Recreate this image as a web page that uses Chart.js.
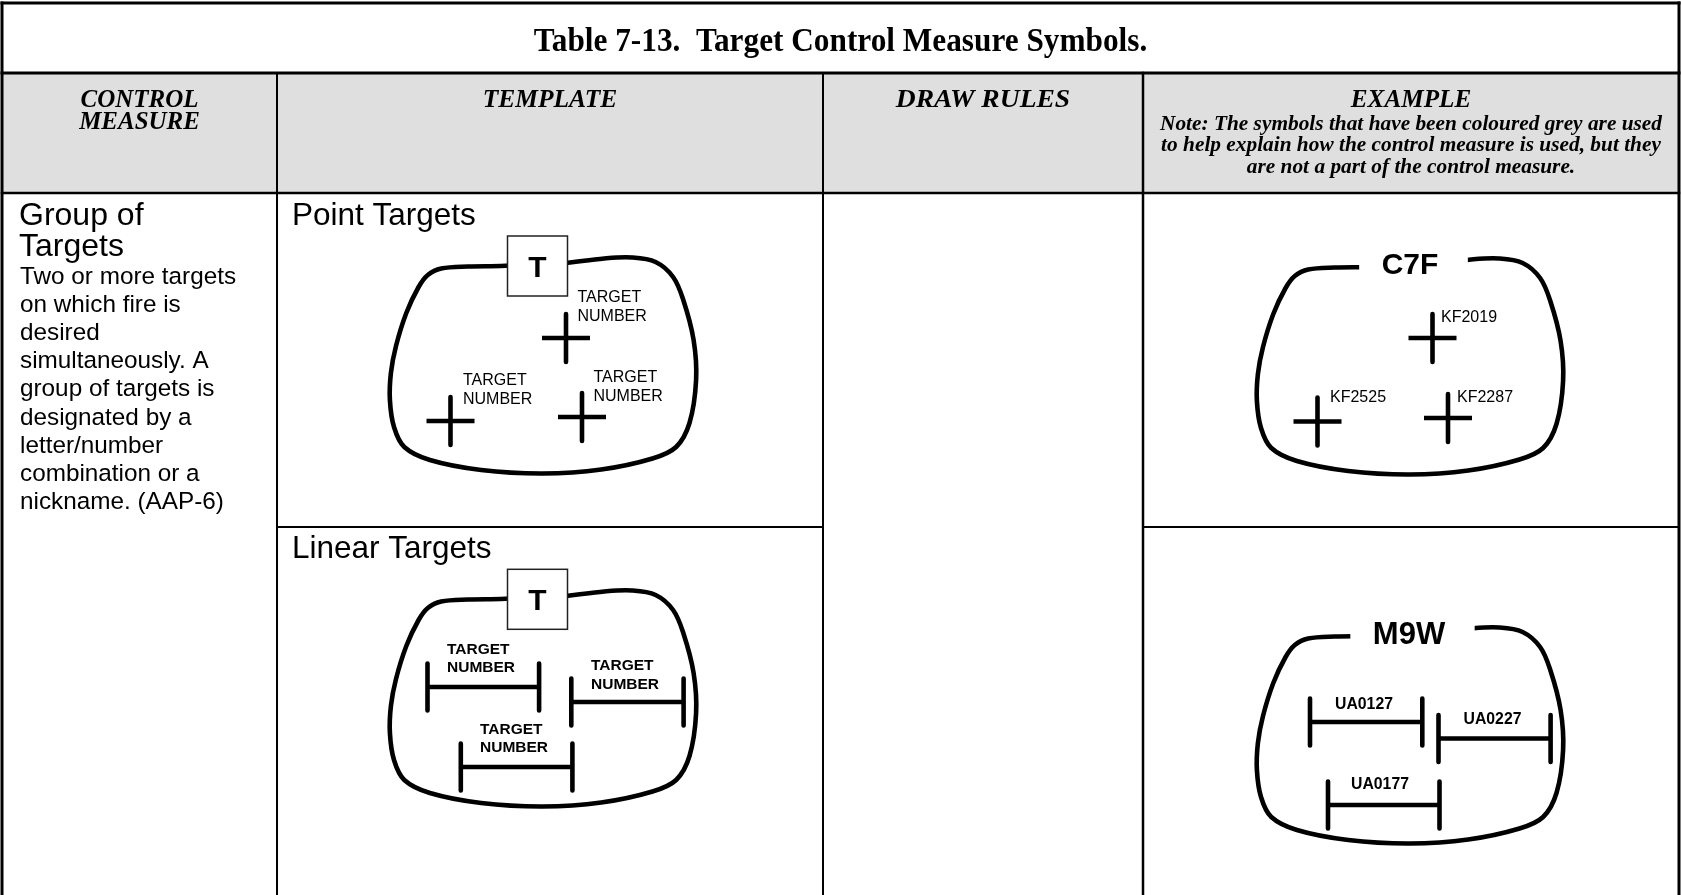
<!DOCTYPE html>
<html>
<head>
<meta charset="utf-8">
<script src="https://cdn.jsdelivr.net/npm/chart.js@4/dist/chart.umd.min.js"></script>
<style>
html,body{margin:0;padding:0;background:#fff;overflow:hidden}
canvas{display:block}
</style>
</head>
<body>
<canvas id="c" width="1681" height="895"></canvas>
<script>
// ---------------- data ----------------
const tableTitle = 'Table 7-13.  Target Control Measure Symbols.';
const headerLabels = [['CONTROL', 'MEASURE'], ['TEMPLATE'], ['DRAW RULES'], ['EXAMPLE']];
const exampleNote = [
  'Note: The symbols that have been coloured grey are used',
  'to help explain how the control measure is used, but they',
  'are not a part of the control measure.'
];
const measureName = ['Group of', 'Targets'];
const measureText = ['Two or more targets', 'on which fire is', 'desired', 'simultaneously. A',
  'group of targets is', 'designated by a', 'letter/number', 'combination or a', 'nickname. (AAP-6)'];
const templateKinds = ['Point Targets', 'Linear Targets'];
const templateSymbol = 'T';
const placeholder = ['TARGET', 'NUMBER'];
const groupDesignators = ['C7F', 'M9W'];
const pointTargetIds = ['KF2019', 'KF2525', 'KF2287'];
const linearTargetIds = ['UA0127', 'UA0227', 'UA0177'];

// outline of a "group of targets" boundary (template, point-target row)
const boundaryX = [537.5, 500.7, 467.9, 441.2, 427.8, 418.6, 406.3, 396, 390.9, 389.9, 394, 404.3, 429.9, 481.2, 542.8, 601.2, 652.5, 676.1, 689.5, 696.1, 693.6, 683.3, 673.1, 655.6, 632, 604.3, 561.2, 537.5];
const boundaryY = [264.5, 266, 266.5, 268.5, 275, 287, 313, 346, 373, 400, 427, 447, 460, 470, 473.5, 469.5, 458.5, 447, 423, 380, 340, 300, 277, 262, 257.5, 258.5, 263.5, 264.5];
// shift of each of the four boundaries (template point, template linear, example point, example linear)
const boundaryShiftX = [0, 0, 867, 867];
const boundaryShiftY = [0, 333, 1, 370];

// point targets (cross centres)
const templateCrossX = [566, 450.5, 582];
const templateCrossY = [338, 421, 417];
const exampleCrossX = [1432.5, 1317.5, 1448];
const exampleCrossY = [338, 421.5, 418];

// linear targets (start, end, level)
const templateLineStart = [427.5, 571.3, 460.8];
const templateLineEnd = [539.1, 683.6, 572.4];
const templateLineY = [687, 702, 767];
const exampleLineStart = [1310, 1438.5, 1328];
const exampleLineEnd = [1422.3, 1550.6, 1439.5];
const exampleLineY = [722, 738.5, 805];

// ---------------- layout / styles ----------------
const SERIF = "'Liberation Serif', 'Times New Roman', serif";
const SANS = "'Liberation Sans', Arial, sans-serif";
const layout = {
  cols: [2, 277, 823, 1143, 1679],
  rows: [3, 73, 193, 527, 895],
  headerFill: '#dfdfdf',
  crossArmX: 24, crossArmY: 24, tickHalf: 23.5, stroke: 4.6,
  titleY: 51,
  headerY: [106.5, 128.5],
  headerScale: [0.96, 0.98, 1.06, 0.97],
  noteY: [129.5, 151, 172.5],
  nameY: [225, 256], textY0: 284, textStep: 28.1, textX: 20,
  kindX: 292, kindY: [225, 558],
  boxCX: 537.5, boxCY: [266, 599.3], boxW: 60, boxH: 60,
  designatorCX: [1410, 1409], designatorY: [273.5, 644], gapShift: 3.5, gapPad: 26,
  templatePointLabel: [[577.5, 302], [463, 385], [593.5, 382]],
  examplePointLabel: [[1441, 322], [1330, 402], [1457, 402]],
  templateLinearLabel: [[447, 653.5], [591, 670], [480, 733.5]],
  exampleLinearLabel: [[1335, 708.5], [1463.5, 724], [1351, 788.5]],
  labelStep: 18.5
};

// ---------------- datasets ----------------
const base = { borderColor: '#000', pointRadius: 0, pointHoverRadius: 0, showLine: true, fill: false,
  borderCapStyle: 'butt', borderJoinStyle: 'round', spanGaps: false };
const datasets = [];
boundaryShiftX.forEach((dx, k) => {
  datasets.push(Object.assign({}, base, {
    label: 'boundary ' + k,
    data: boundaryX.map((x, i) => ({ x: x + dx, y: boundaryY[i] + boundaryShiftY[k] })),
    borderWidth: layout.stroke, tension: 0.35
  }));
});
function crossData(xs, ys) {
  const out = [];
  xs.forEach((x, i) => {
    const y = ys[i];
    out.push({ x: x - layout.crossArmX, y }, { x: x + layout.crossArmX, y }, { x, y: null },
      { x, y: y - layout.crossArmY }, { x, y: y + layout.crossArmY }, { x, y: null });
  });
  return out;
}
function lineData(x1s, x2s, ys) {
  const out = [], t = layout.tickHalf;
  x1s.forEach((x1, i) => {
    const x2 = x2s[i], y = ys[i];
    out.push({ x: x1, y: y - t }, { x: x1, y: y + t }, { x: x1, y: null },
      { x: x1, y }, { x: x2, y }, { x: x2, y: null },
      { x: x2, y: y - t }, { x: x2, y: y + t }, { x: x2, y: null });
  });
  return out;
}
datasets.push(Object.assign({}, base, { label: 'template points', data: crossData(templateCrossX, templateCrossY), borderWidth: layout.stroke, tension: 0 }));
datasets.push(Object.assign({}, base, { label: 'example points', data: crossData(exampleCrossX, exampleCrossY), borderWidth: layout.stroke, tension: 0 }));
datasets.push(Object.assign({}, base, { label: 'template lines', data: lineData(templateLineStart, templateLineEnd, templateLineY), borderWidth: layout.stroke, tension: 0 }));
datasets.push(Object.assign({}, base, { label: 'example lines', data: lineData(exampleLineStart, exampleLineEnd, exampleLineY), borderWidth: layout.stroke, tension: 0 }));

// ---------------- drawing helpers ----------------
function txt(ctx, s, x, y, font, align, sx) {
  ctx.save();
  ctx.font = font;
  ctx.fillStyle = '#000';
  ctx.textBaseline = 'alphabetic';
  ctx.textAlign = align || 'left';
  ctx.translate(x, y);
  ctx.scale(sx || 1, 1);
  ctx.fillText(s, 0, 0);
  ctx.restore();
}

const tablePlugin = {
  id: 'tablePlugin',
  beforeDraw(chart) {
    const ctx = chart.ctx, X = v => chart.scales.x.getPixelForValue(v), Y = v => chart.scales.y.getPixelForValue(v);
    const c = layout.cols, r = layout.rows;
    ctx.save();
    ctx.fillStyle = '#fff';
    ctx.fillRect(0, 0, chart.width, chart.height);
    ctx.fillStyle = layout.headerFill;
    ctx.fillRect(X(c[0]), Y(r[1]), X(c[4]) - X(c[0]), Y(r[2]) - Y(r[1]));
    ctx.restore();
  },
  afterDatasetsDraw(chart) {
    const ctx = chart.ctx, X = v => chart.scales.x.getPixelForValue(v), Y = v => chart.scales.y.getPixelForValue(v);
    // template "T" boxes
    layout.boxCY.forEach(cy => {
      ctx.save();
      ctx.fillStyle = '#fff';
      ctx.strokeStyle = '#222';
      ctx.lineWidth = 1.5;
      const x0 = X(layout.boxCX - layout.boxW / 2), y0 = Y(cy - layout.boxH / 2);
      ctx.fillRect(x0, y0, layout.boxW, layout.boxH);
      ctx.strokeRect(x0, y0, layout.boxW, layout.boxH);
      ctx.restore();
      txt(ctx, templateSymbol, X(layout.boxCX), Y(cy + 10.8), 'bold 30px ' + SANS, 'center');
    });
    // example designators in a gap of the boundary
    groupDesignators.forEach((s, i) => {
      const font = 'bold ' + (i === 0 ? 30 : 31) + 'px ' + SANS;
      ctx.save();
      ctx.font = font;
      const w = ctx.measureText(s).width + 2 * layout.gapPad;
      ctx.fillStyle = '#fff';
      ctx.fillRect(X(layout.designatorCX[i] + layout.gapShift) - w / 2, Y(layout.designatorY[i] - 28), w, 34);
      ctx.restore();
      txt(ctx, s, X(layout.designatorCX[i]), Y(layout.designatorY[i]), font, 'center');
    });
    // TARGET NUMBER placeholders
    layout.templatePointLabel.forEach(p => {
      placeholder.forEach((s, j) => txt(ctx, s, X(p[0]), Y(p[1] + j * layout.labelStep), '16px ' + SANS));
    });
    layout.templateLinearLabel.forEach(p => {
      placeholder.forEach((s, j) => txt(ctx, s, X(p[0]), Y(p[1] + j * layout.labelStep), 'bold 15.5px ' + SANS));
    });
    pointTargetIds.forEach((s, i) => {
      const p = layout.examplePointLabel[i];
      txt(ctx, s, X(p[0]), Y(p[1]), '16px ' + SANS);
    });
    linearTargetIds.forEach((s, i) => {
      const p = layout.exampleLinearLabel[i];
      txt(ctx, s, X(p[0]), Y(p[1]), 'bold 15.8px ' + SANS);
    });
  },
  afterDraw(chart) {
    const ctx = chart.ctx, X = v => chart.scales.x.getPixelForValue(v), Y = v => chart.scales.y.getPixelForValue(v);
    const c = layout.cols, r = layout.rows;
    const seg = (x1, y1, x2, y2, w) => {
      ctx.save(); ctx.strokeStyle = '#000'; ctx.lineWidth = w; ctx.lineCap = 'square';
      ctx.beginPath(); ctx.moveTo(X(x1), Y(y1)); ctx.lineTo(X(x2), Y(y2)); ctx.stroke(); ctx.restore();
    };
    // grid
    seg(c[0], r[0], c[4], r[0], 3);
    seg(c[0], r[0], c[0], r[4] + 5, 3);
    seg(c[4], r[0], c[4], r[4] + 5, 3);
    seg(c[0], r[1], c[4], r[1], 3);
    seg(c[0], r[2], c[4], r[2], 2.5);
    seg(c[1], r[1], c[1], r[4] + 5, 2);
    seg(c[2], r[1], c[2], r[4] + 5, 2);
    seg(c[3], r[1], c[3], r[4] + 5, 2.5);
    seg(c[1], r[3], c[2], r[3], 2);
    seg(c[3], r[3], c[4], r[3], 2);
    // title
    txt(ctx, tableTitle, X((c[0] + c[4]) / 2), Y(layout.titleY), 'bold 34px ' + SERIF, 'center', 0.92);
    // headers
    headerLabels.forEach((lines, i) => {
      const cx = (c[i] + c[i + 1]) / 2;
      lines.forEach((s, j) => txt(ctx, s, X(cx), Y(layout.headerY[j]), 'italic bold 26px ' + SERIF, 'center', layout.headerScale[i]));
    });
    exampleNote.forEach((s, j) => txt(ctx, s, X((c[3] + c[4]) / 2), Y(layout.noteY[j]), 'italic bold 22px ' + SERIF, 'center', 0.97));
    // control measure column
    measureName.forEach((s, j) => txt(ctx, s, X(layout.textX - 1), Y(layout.nameY[j]), '32px ' + SANS));
    measureText.forEach((s, j) => txt(ctx, s, X(layout.textX), Y(layout.textY0 + j * layout.textStep), '24.3px ' + SANS));
    // template row names
    templateKinds.forEach((s, j) => txt(ctx, s, X(layout.kindX), Y(layout.kindY[j]), '31.5px ' + SANS));
  }
};

const chart = new Chart(document.getElementById('c'), {
  type: 'scatter',
  data: { datasets },
  options: {
    responsive: false,
    devicePixelRatio: 1,
    animation: false,
    events: [],
    layout: { padding: 0 },
    plugins: { legend: { display: false }, tooltip: { enabled: false }, title: { display: false } },
    scales: {
      x: { type: 'linear', min: 0, max: 1681, display: false },
      y: { type: 'linear', min: 0, max: 895, reverse: true, display: false }
    }
  },
  plugins: [tablePlugin]
});
</script>
</body>
</html>
